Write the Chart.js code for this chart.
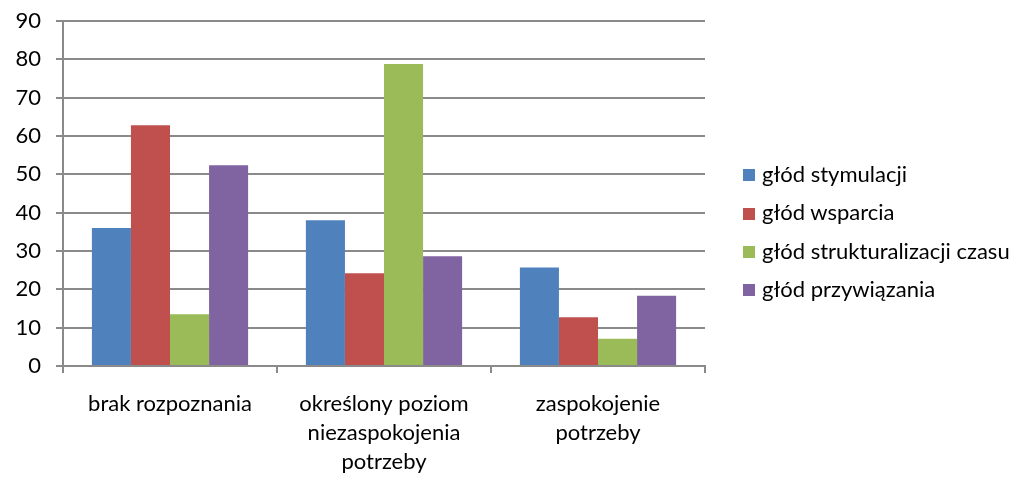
<!DOCTYPE html>
<html>
<head>
<meta charset="utf-8">
<script src="https://cdn.jsdelivr.net/npm/chart.js@4/dist/chart.umd.min.js"></script>
<style>
  html, body { margin: 0; padding: 0; background: #fff; }
  #wrap { position: relative; width: 1030px; height: 479px; }
  #legend { position: absolute; left: 743px; top: 155px; margin: 0; padding: 0; list-style: none;
            font-family: Lato, "Liberation Sans", sans-serif; font-size: 22px; color: #000; }
  #legend li { height: 38.3px; line-height: 38.3px; white-space: nowrap; }
  #legend span { display: inline-block; width: 12px; height: 12px; margin-right: 7px; vertical-align: middle; position: relative; top: -1px; }
</style>
</head>
<body>
<div id="wrap"><canvas id="chart"></canvas><ul id="legend"></ul></div>
<script>
// data
var categories = ['brak rozpoznania', ['określony poziom', 'niezaspokojenia', 'potrzeby'], ['zaspokojenie', 'potrzeby']];
var seriesNames = ['głód stymulacji', 'głód wsparcia', 'głód strukturalizacji czasu', 'głód przywiązania'];
var stymulacji = [36, 38, 25.7];
var wsparcia = [62.8, 24.2, 12.7];
var strukturalizacji = [13.5, 78.8, 7.1];
var przywiazania = [52.4, 28.6, 18.3];
var yTicks = [0, 10, 20, 30, 40, 50, 60, 70, 80, 90];

var colors = ['#4F81BD', '#C0504D', '#9BBB59', '#8064A2'];
var series = [stymulacji, wsparcia, strukturalizacji, przywiazania];

var family = 'Lato, "Liberation Sans", sans-serif';
var font = { family: family, size: 22 };
var gridColor = '#8a8a8a';

var datasets = series.map(function (values, i) {
    return {
        label: seriesNames[i],
        data: values,
        backgroundColor: colors[i],
        borderWidth: 0
    };
});

var chart = new Chart(document.getElementById('chart'), {
    type: 'bar',
    data: { labels: categories, datasets: datasets },
    options: {
        responsive: true,
        maintainAspectRatio: false,
        animation: false,
        layout: { padding: { left: 0, top: 21, right: 325, bottom: 0 } },
        datasets: { bar: { categoryPercentage: 0.73, barPercentage: 1 } },
        plugins: {
            tooltip: { enabled: false },
            legend: { display: false }
        },
        scales: {
            x: {
                afterFit: function (scale) {
                    scale.height = 113;
                    scale.paddingLeft = 0;
                    scale.paddingRight = 0;
                },
                grid: {
                    offset: true,
                    drawOnChartArea: false,
                    drawTicks: true,
                    tickLength: 7,
                    color: gridColor,
                    lineWidth: 2
                },
                border: { color: gridColor, width: 2 },
                ticks: { color: '#000', font: { family: family, size: 22, lineHeight: 1.3 }, maxRotation: 0, padding: 17 }
            },
            y: {
                min: 0,
                max: 90,
                afterFit: function (scale) {
                    scale.width = 63;
                    scale.paddingTop = 0;
                    scale.paddingBottom = 0;
                },
                afterBuildTicks: function (axis) {
                    axis.ticks = yTicks.map(function (v) { return { value: v }; });
                },
                grid: { color: gridColor, lineWidth: 2, tickLength: 7 },
                border: { color: gridColor, width: 2 },
                ticks: { color: '#000', font: font, padding: 15 }
            }
        }
    }
});

// legend as page text, built from the chart's datasets
var legend = document.getElementById('legend');
chart.data.datasets.forEach(function (ds) {
    var li = document.createElement('li');
    var box = document.createElement('span');
    box.style.background = ds.backgroundColor;
    li.appendChild(box);
    li.appendChild(document.createTextNode(ds.label));
    legend.appendChild(li);
});
</script>
</body>
</html>
